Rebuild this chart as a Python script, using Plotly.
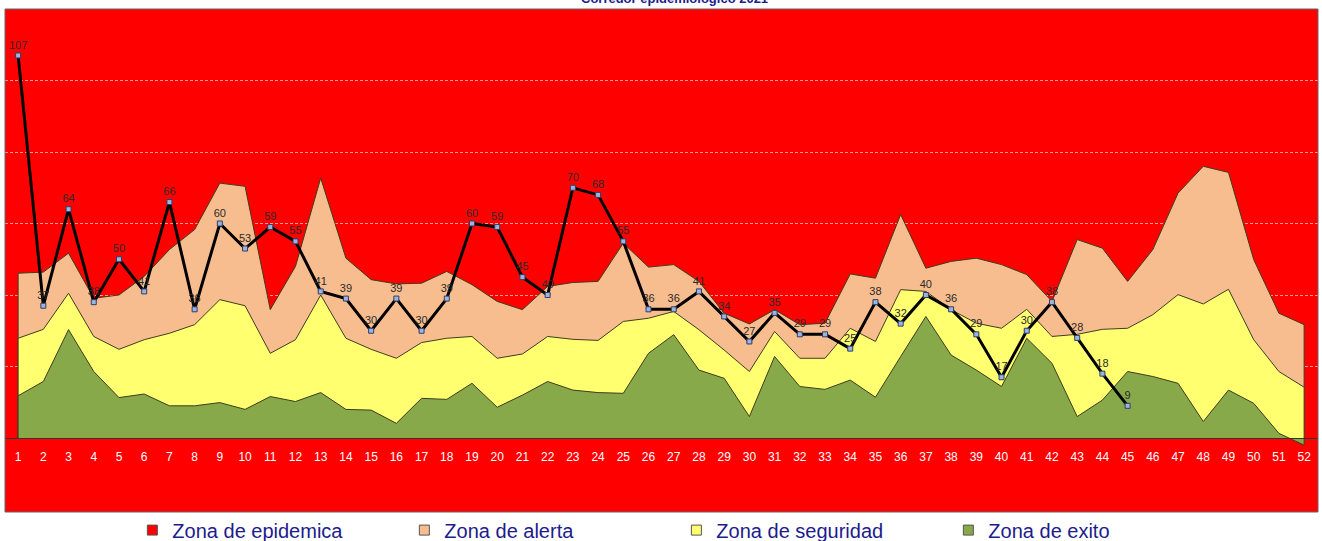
import plotly.graph_objects as go

# semanas epidemiológicas
semanas = list(range(1, 53))

# casos notificados (semanas 1-45)
casos = [107, 37, 64, 38, 50, 41, 66, 36, 60, 53, 59, 55, 41, 39, 30, 39, 30, 39,
         60, 59, 45, 40, 70, 68, 55, 36, 36, 41, 34, 27, 35, 29, 29, 25, 38, 32,
         40, 36, 29, 17, 30, 38, 28, 18, 9]

# límites superiores de cada zona del corredor
zona_exito = [11.8, 15.8, 30.3, 18.6, 11.3, 12.3, 9.0, 9.0, 9.9, 8.0, 11.6, 10.2, 12.7,
              8.0, 7.8, 4.1, 11.1, 10.8, 15.3, 8.6, 12.0, 15.8, 13.4, 12.7, 12.5, 23.7,
              28.9, 19.0, 16.7, 6.0, 22.8, 14.4, 13.6, 16.2, 11.4, 22.8, 34.0, 23.2, 19.0,
              14.4, 27.9, 20.9, 6.0, 10.6, 18.6, 17.2, 15.3, 4.6, 13.4, 9.7, 1.3, -2.0]
zona_seguridad = [27.9, 30.4, 40.5, 28.4, 24.8, 27.5, 29.3, 31.7, 38.7, 37.0, 23.7, 27.5, 40.0,
                  27.9, 24.8, 22.3, 26.7, 27.9, 28.4, 22.3, 23.5, 28.4, 27.6, 27.3, 32.6, 33.5,
                  35.4, 30.3, 24.6, 18.6, 29.8, 22.3, 22.3, 30.7, 27.0, 41.5, 41.0, 35.9, 32.1,
                  30.7, 36.0, 28.4, 29.0, 30.4, 30.7, 34.5, 40.1, 37.5, 41.6, 27.5, 18.6, 14.2]
zona_alerta = [46.1, 46.4, 51.7, 39.1, 40.0, 45.2, 52.7, 58.3, 71.3, 70.4, 35.9, 48.0, 72.7,
               50.3, 44.3, 43.1, 43.3, 46.6, 42.9, 38.2, 35.9, 42.4, 43.5, 43.8, 54.5, 47.8,
               48.5, 43.8, 34.9, 31.9, 35.9, 31.7, 32.1, 45.9, 44.7, 62.5, 47.5, 49.4, 50.3,
               48.5, 45.7, 38.2, 55.5, 53.1, 43.8, 52.7, 68.5, 76.0, 74.3, 49.9, 34.9, 31.7]

leyenda = ["Zona de epidemica", "Zona de alerta", "Zona de seguridad", "Zona de exito"]

ROJO = "#FF0000"
DURAZNO = "#F8BD8E"
AMARILLO = "#FFFF70"
VERDE = "#88A94A"
BORDE = "#3d3d1e"
AZUL = "#1c1c8c"

Y_MIN, Y_MAX = -20.7, 120


def zona(valores, color):
    # polígono cerrado sobre la línea base, como el área de Excel
    x = [semanas[0]] + semanas + [semanas[-1]]
    y = [0] + valores + [0]
    return go.Scatter(x=x, y=y, fill="toself", fillcolor=color, mode="lines",
                      line=dict(color=BORDE, width=1), showlegend=False, hoverinfo="skip")


fig = go.Figure()
fig.add_trace(zona(zona_alerta, DURAZNO))
fig.add_trace(zona(zona_seguridad, AMARILLO))
fig.add_trace(zona(zona_exito, VERDE))

fig.add_trace(go.Scatter(
    x=semanas[:len(casos)], y=casos, mode="lines+markers+text",
    text=[str(c) for c in casos], textposition="top center",
    textfont=dict(family="Arial", size=11, color="#2a2a2a"),
    line=dict(color="black", width=3),
    marker=dict(symbol="square", size=5, color="#9fb4da", line=dict(color="#2c3e6e", width=1)),
    showlegend=False,
))

# entradas de leyenda
for nombre, color in zip(leyenda, [ROJO, DURAZNO, AMARILLO, VERDE]):
    fig.add_trace(go.Scatter(x=[None], y=[None], mode="markers", name=nombre,
                             marker=dict(symbol="square", size=10, color=color,
                                         line=dict(color="#555555", width=1))))

fig.update_layout(
    width=1322, height=541,
    margin=dict(l=5, r=4, t=9, b=29, autoexpand=False),
    plot_bgcolor=ROJO, paper_bgcolor="white",
    font=dict(family="Arial"),
    xaxis=dict(range=[0.48, 52.55], tickmode="array", tickvals=semanas,
               tickfont=dict(size=12, color="white"), showgrid=False, zeroline=False,
               anchor="free", position=-Y_MIN / (Y_MAX - Y_MIN), showline=True,
               linecolor="#333333", ticks="", ticklabelstandoff=8),
    yaxis=dict(range=[Y_MIN, Y_MAX], tickvals=[20, 40, 60, 80, 100], showticklabels=False,
               gridcolor="rgba(255,205,205,0.75)", griddash="3px,2px", gridwidth=1, zeroline=False),
    legend=dict(orientation="h", x=0.097, xanchor="left", y=-0.036, yanchor="middle",
                font=dict(size=20, color=AZUL), entrywidth=227, entrywidthmode="pixels",
                itemwidth=30, bgcolor="rgba(0,0,0,0)"),
    shapes=[dict(type="rect", xref="paper", yref="paper", x0=0, x1=1, y0=0, y1=1,
                 line=dict(color="#666666", width=1))],
    annotations=[dict(text="<b>Corredor epidemiologico 2021</b>", xref="paper", yref="paper",
                      x=0.51, y=1, xanchor="center", yanchor="bottom", yshift=1,
                      showarrow=False, font=dict(size=13, color=AZUL))],
)

fig.write_html("out.html", config={"displayModeBar": False},
               post_script="document.body.style.margin='0';")
